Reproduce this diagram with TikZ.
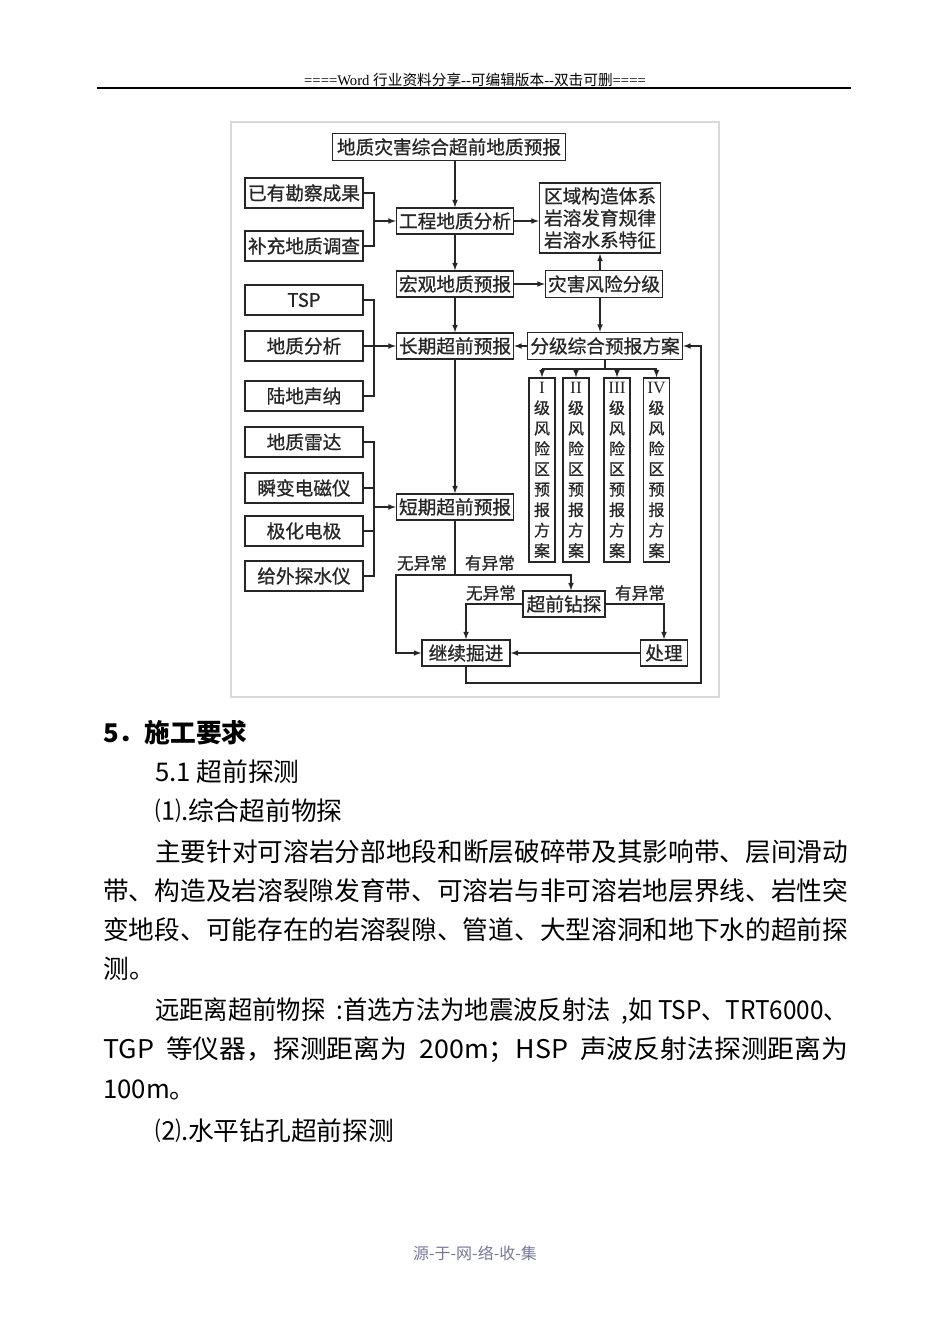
\documentclass[tikz,border=0pt]{standalone}
\usepackage{fontspec}
\setmainfont{Liberation Serif}
\newfontfamily\cjk{Noto Sans CJK SC}
\newfontfamily\cjkbox{Noto Sans CJK SC}[FakeBold=0.8]
\usetikzlibrary{positioning}
\definecolor{foot}{RGB}{120,120,155}
\XeTeXlinebreaklocale "zh"
\XeTeXlinebreakskip=0pt plus 1pt minus 0.3pt
\begin{document}
\begin{tikzpicture}[x=0.75pt,y=-0.75pt,>=latex,
    box/.style={draw=black!85,line width=1.1pt,inner sep=0pt,text=black!85,
      font=\cjkbox\fontsize{14}{16}\selectfont},
    side/.style={box,minimum width=88.5pt,minimum height=22.5pt},
    mid/.style={box,minimum width=87.75pt,minimum height=19.5pt},
    lvl/.style={box,minimum width=19.5pt,minimum height=138pt,align=center,
      font=\cjkbox\fontsize{12}{15.3}\selectfont},
    lab/.style={inner sep=0pt,text=black!85,font=\cjkbox\fontsize{12.5}{14}\selectfont},
    line/.style={line width=0.9pt,black!85},
    para/.style={anchor=west,inner sep=0pt,font=\cjk\fontsize{19.3}{24}\selectfont}]
  \useasboundingbox[fill=white] (0,0) rectangle (950,1344);

  % header
  \node[inner sep=0pt,font=\fontsize{11}{12}\selectfont] (head) at (475,80)
    {====Word {\cjk 行业资料分享}-{}-{\cjk 可编辑版本}-{}-{\cjk 双击可删}====};
  \draw[line width=1.2pt] (97,88) -- (851,88);

  % flowchart frame
  \draw[gray!30,line width=0.8pt] (231,122) rectangle (719,697);

  % boxes
  \node[box,minimum width=174.75pt,minimum height=20.25pt] (top) at (449,147) {地质灾害综合超前地质预报};
  \node[side] (kancha) at (304,193) {已有勘察成果};
  \node[side] (buchong) at (304,246) {补充地质调查};
  \node[mid] (gongcheng) at (455,221) {工程地质分析};
  \node[box,minimum width=90.75pt,minimum height=52.5pt,align=center,
    font=\cjkbox\fontsize{14}{16.5}\selectfont] (quyu) at (600,218) {区域构造体系\\岩溶发育规律\\岩溶水系特征};
  \node[mid] (hongguan) at (455,284) {宏观地质预报};
  \node[mid,minimum height=20.25pt] (zaihai) at (604,284) {灾害风险分级};
  \node[side] (tsp) at (304,300) {TSP};
  \node[side] (dizhi) at (304,346) {地质分析};
  \node[side] (luodi) at (304,396) {陆地声纳};
  \node[mid] (changqi) at (455,346) {长期超前预报};
  \node[box,minimum width=116.25pt,minimum height=20.25pt] (fenji) at (605,346) {分级综合预报方案};
  \foreach \n/\x/\r in {1/542/I,2/576/II,3/617/III,4/656.5/IV}
    \node[lvl] (lvl\n) at (\x,470) {{\rmfamily\fontsize{13}{15}\selectfont\r}\\级\\风\\险\\区\\预\\报\\方\\案};
  \node[side] (leida) at (304,442) {地质雷达};
  \node[side] (shunbian) at (304,488) {瞬变电磁仪};
  \node[side] (jihua) at (304,531) {极化电极};
  \node[side] (geiwai) at (304,576) {给外探水仪};
  \node[mid] (duanqi) at (455,507) {短期超前预报};
  \node[box,minimum width=61.5pt,minimum height=19.5pt] (zuantan) at (564,604) {超前钻探};
  \node[box,minimum width=66pt,minimum height=19.5pt] (jixu) at (466,653) {继续掘进};
  \node[box,minimum width=35.25pt,minimum height=19.5pt] (chuli) at (664,653) {处理};

  % joints
  \coordinate (j1) at (374,221);
  \coordinate (j2) at (374,346);
  \coordinate (j3) at (605,369);
  \coordinate (j4) at (374,507);
  \coordinate (j5) at (455,575);
  \coordinate (w1) at (396,575);
  \coordinate (e1) at (571,575);
  \coordinate (r1) at (701,683);

  % connectors
  \draw[line,->] (top.south -| gongcheng.north) -- (gongcheng.north);
  \draw[line] (kancha.east) -| (j1) |- (buchong.east);
  \draw[line,->] (j1) -- (gongcheng.west);
  \draw[line,->] (gongcheng.east) -- (gongcheng.east -| quyu.west);
  \draw[line,->] (gongcheng.south) -- (hongguan.north);
  \draw[line,->] (hongguan.east) -- (zaihai.west);
  \draw[line,->] (zaihai.north -| quyu.south) -- (quyu.south);
  \draw[line,->] (zaihai.south -| quyu.south) -- (fenji.north -| quyu.south);
  \draw[line,->] (hongguan.south) -- (changqi.north);
  \draw[line] (tsp.east) -| (j2) |- (luodi.east);
  \draw[line] (dizhi.east) -- (j2);
  \draw[line,->] (j2) -- (changqi.west);
  \draw[line,->] (fenji.west) -- (changqi.east);
  \draw[line] (fenji.south) -- (j3);
  \draw[line] (lvl1.north |- j3) -- (lvl4.north |- j3);
  \foreach \n in {1,...,4}
    \draw[line,->] (lvl\n.north |- j3) -- (lvl\n.north);
  \draw[line,->] (changqi.south) -- (duanqi.north);
  \draw[line] (leida.east) -| (j4) |- (geiwai.east);
  \draw[line] (shunbian.east) -- (shunbian.east -| j4);
  \draw[line] (jihua.east) -- (jihua.east -| j4);
  \draw[line,->] (j4) -- (duanqi.west);
  \draw[line] (duanqi.south) -- (j5);
  \draw[line,->] (j5) -- (w1) |- (jixu.west);
  \draw[line,->] (j5) -- (e1) -- (e1 |- zuantan.north);
  \draw[line,->] (zuantan.west) -| (jixu.north);
  \draw[line,->] (zuantan.east) -| (chuli.north);
  \draw[line,->] (chuli.west) -- (jixu.east);
  \draw[line,->] (jixu.south) |- (r1) |- (fenji.east);

  % branch labels
  \node[lab] (wu1) at (422,563) {无异常};
  \node[lab] (you1) at (490,563) {有异常};
  \node[lab] (wu2) at (491,593) {无异常};
  \node[lab] (you2) at (640,593) {有异常};

  % text below
  \node[para,font=\cjk\bfseries\fontsize{19.3}{24}\selectfont] (h5) at (103,733) {5．施工要求};
  \node[para] (t1) at (155,772) {5.1 超前探测};
  \node[para] (t2) at (155,811) {⑴.综合超前物探};
  \node[para] (t3) at (155,852) {\resizebox{519.75pt}{\height}{主要针对可溶岩分部地段和断层破碎带及其影响带、层间滑动}};
  \node[para] (t4) at (103,891) {\resizebox{558.75pt}{\height}{带、构造及岩溶裂隙发育带、可溶岩与非可溶岩地层界线、岩性突}};
  \node[para] (t5) at (103,930) {\resizebox{558.75pt}{\height}{变地段、可能存在的岩溶裂隙、管道、大型溶洞和地下水的超前探}};
  \node[para] (t6) at (103,969) {测。};
  \node[para] (t7) at (155,1011) {\resizebox{519.75pt}{\height}{远距离超前物探 \ :首选方法为地震波反射法 \ ,如 TSP、TRT6000、}};
  \node[para] (t8) at (103,1050) {\resizebox{558.75pt}{\height}{TGP \ 等仪器，探测距离为 \ 200m；HSP \ 声波反射法探测距离为}};
  \node[para] (t9) at (103,1090) {100m。};
  \node[para] (t10) at (155,1131) {⑵.水平钻孔超前探测};

  % footer
  \node[inner sep=0pt,text=foot,font=\cjk\fontsize{12}{14}\selectfont] (foot) at (475,1253) {源-于-网-络-收-集};
\end{tikzpicture}
\end{document}
